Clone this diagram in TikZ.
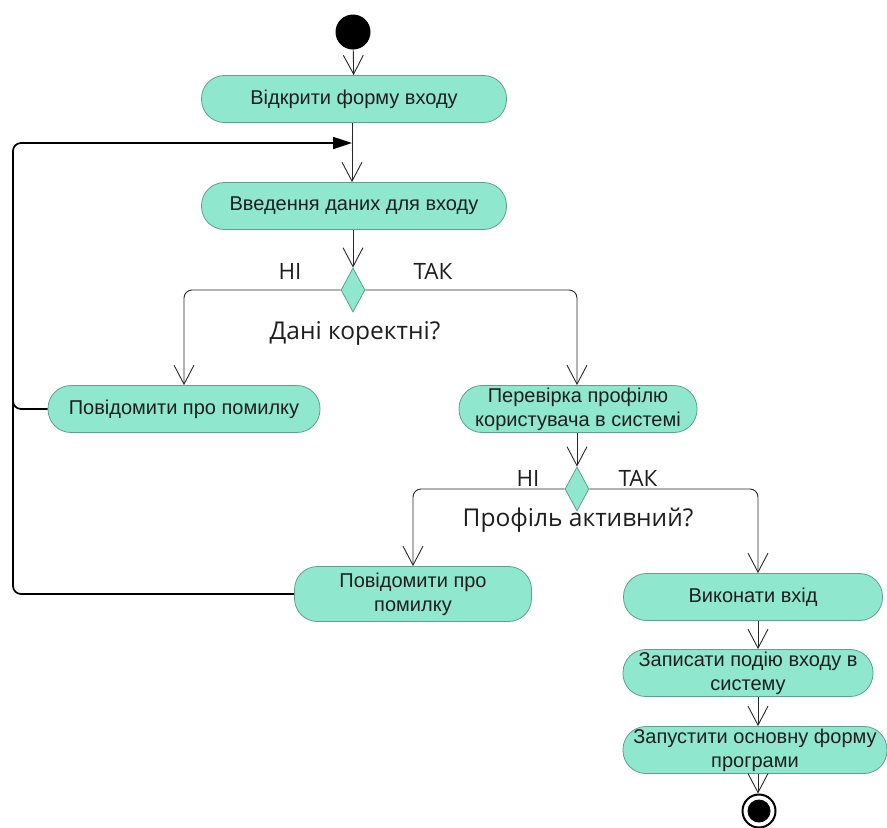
\documentclass[tikz,border=0pt]{standalone}
\usepackage{fontspec}
\setmainfont{Liberation Sans}
\newfontfamily\labfont{Open Sans}
\usetikzlibrary{shapes.geometric,arrows.meta}
\definecolor{actfill}{RGB}{143,232,206}
\definecolor{actdraw}{RGB}{95,160,140}
\definecolor{txt}{RGB}{30,30,30}
\definecolor{ln}{RGB}{40,40,40}
\tikzset{
  act/.style={draw=actdraw, fill=actfill, line width=0.8pt, rounded corners=23pt,
    minimum height=47pt, inner sep=1pt, align=center, text=txt,
    font=\fontsize{20}{24}\selectfont},
  dec/.style={diamond, draw=actdraw, fill=actfill, line width=0.8pt,
    minimum width=24pt, minimum height=44pt, inner sep=0pt},
  flow/.style={draw=ln, line width=0.9pt, -{Straight Barb[length=19pt,width=20pt,line width=0.9pt]}},
  loopline/.style={draw=black, line width=1.7pt, rounded corners=8pt},
  lab/.style={font=\labfont\fontsize{22.5}{24}\selectfont, text=txt},
  qlab/.style={font=\labfont\fontsize{24.5}{28}\selectfont, text=txt},
}
\begin{document}
\begin{tikzpicture}[x=1pt,y=-1pt]
\useasboundingbox (0,0) rectangle (887,828);
% start
\node[circle, fill=black, minimum size=35pt, inner sep=0pt] (start) at (353,32) {};
% boxes
\node[act, minimum width=305pt] (b1) at (354,99) {Відкрити форму входу};
\node[act, minimum width=305pt] (b2) at (354,206) {Введення даних для входу};
\node[dec] (d1) at (353,290) {};
\node[act, minimum width=272pt] (b3) at (184,409) {Повідомити про помилку};
\node[act, minimum width=238pt] (b4) at (578,409) {Перевірка профілю\\користувача в системі};
\node[dec] (d2) at (577,489) {};
\node[act, minimum width=237pt, minimum height=55pt] (b5) at (413,594) {Повідомити про\\помилку};
\node[act, minimum width=259pt] (b6) at (753,597) {Виконати вхід};
\node[act, minimum width=250pt] (b7) at (748,673) {Записати подію входу в\\систему};
\node[act, minimum width=264pt] (b8) at (755,750) {Запустити основну форму\\програми};
% end
\node[circle, draw=black, line width=2pt, fill=white, minimum size=33pt, inner sep=0pt] (end) at (759,811) {};
\node[circle, fill=black, minimum size=23pt, inner sep=0pt] (endin) at (end.center) {};
% labels
\node[lab] (n1) at (290,271) {НІ};
\node[lab] (t1) at (433,271) {ТАК};
\node[qlab] (q1) at (355,333) {Дані коректні?};
\node[lab] (n2) at (528,478) {НІ};
\node[lab] (t2) at (638,478) {ТАК};
\node[qlab] (q2) at (578,520) {Профіль активний?};
% coordinates
\coordinate (lx) at (13,143);
\coordinate (loopin) at (352,143);
\coordinate (rc) at (758,0);
\coordinate (lx3) at (13,380);
% flows
\draw[flow] (start) -- (b1);
\draw[flow] (b1.south -| loopin) -- (b2.north -| loopin);
\draw[flow] (b2.south -| d1) -- (d1.north);
\draw[flow, rounded corners=8pt] (d1.west) -| (b3.north);
\draw[flow, rounded corners=8pt] (d1.east) -| (b4.north -| d2);
\draw[flow] (b4.south -| d2) -- (d2.north);
\draw[flow, rounded corners=8pt] (d2.west) -| (b5.north);
\draw[flow, rounded corners=8pt] (d2.east) -| (b6.north -| rc);
\draw[flow] (b6.south -| rc) -- (b7.north -| rc);
\draw[flow] (b7.south -| rc) -- (b8.north -| rc);
\draw[flow] (b8.south -| rc) -- (end.north -| rc);
% loop back
\draw[loopline] (b3.west) -| (lx3);
\draw[loopline, -{Triangle[length=19pt,width=12pt]}] (b5.west) -| (lx) -- (loopin);
\end{tikzpicture}
\end{document}
